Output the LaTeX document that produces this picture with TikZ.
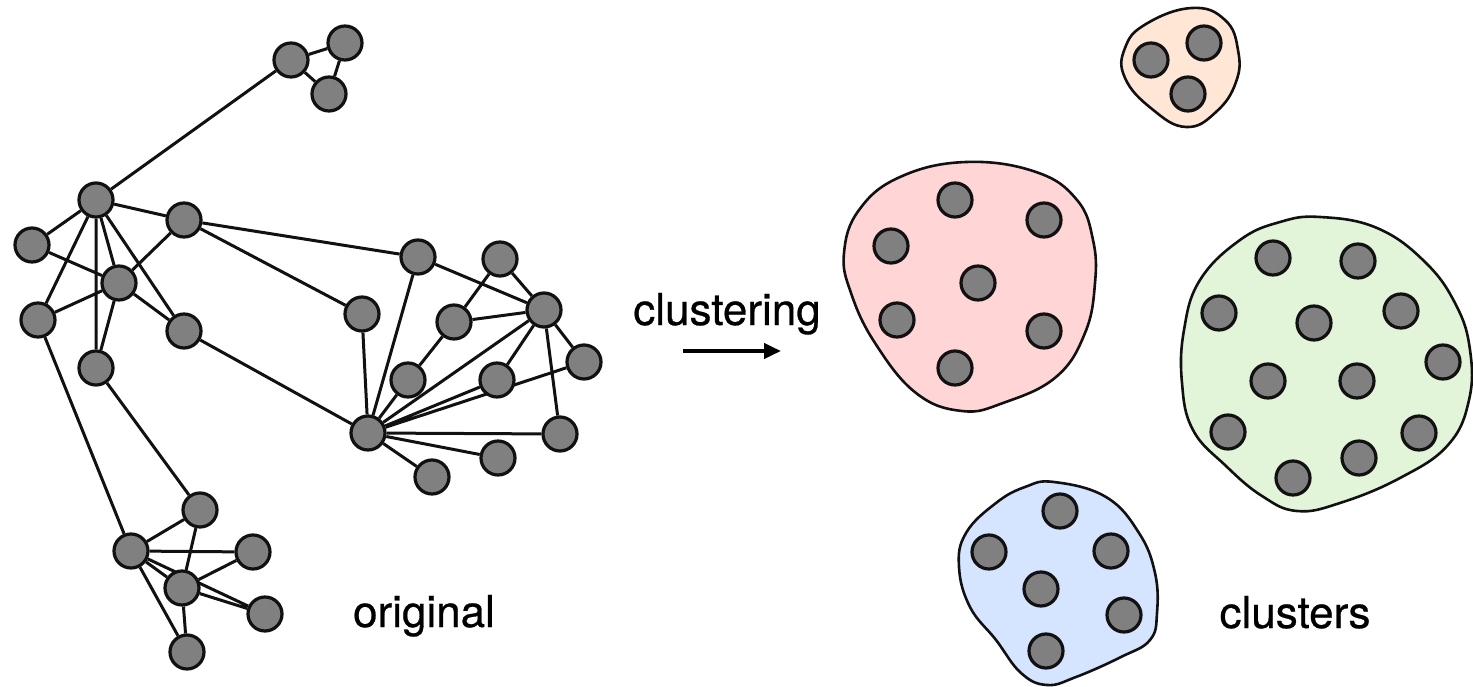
\documentclass[tikz,border=0pt]{standalone}
\usepackage{fontspec}
\setmainfont{TeX Gyre Heros}
\newfontfamily\lblfont{TeX Gyre Heros}[FakeBold=0.6]
\usetikzlibrary{arrows.meta,backgrounds}
\definecolor{nodegray}{HTML}{808080}
\definecolor{outl}{HTML}{111111}
\definecolor{orangefill}{HTML}{FFE6D5}
\definecolor{pinkfill}{HTML}{FFD5D5}
\definecolor{greenfill}{HTML}{E3F5D8}
\definecolor{bluefill}{HTML}{D5E5FF}
\begin{document}
\begin{tikzpicture}[x=1pt,y=-1pt,
  vtx/.style={circle,draw=outl,fill=nodegray,line width=3.2pt,minimum size=34pt,inner sep=0pt},
  edge/.style={draw=outl,line width=3pt},
  blob/.style={draw=outl,line width=2.6pt},
  lbl/.style={font=\lblfont\fontsize{44}{50}\selectfont,inner sep=0pt,anchor=base}]
\useasboundingbox (0,0) rectangle (1473,687);

% ---------- cluster blobs ----------
\draw[blob,fill=orangefill] plot[smooth cycle,tension=0.75] coordinates {
  (1192,8) (1225,20) (1238,50) (1236,82) (1216,112) (1186,127) (1152,109) (1125,78) (1125,48) (1146,24)};
\draw[blob,fill=pinkfill] plot[smooth cycle,tension=0.7] coordinates {
  (966,162) (1036,172) (1077,200) (1093,240) (1095,283) (1085,333) (1056,377) (1003,403) (962,411)
  (916,393) (875,343) (851,293) (844,253) (859,210) (900,177)};
\draw[blob,fill=greenfill] plot[smooth cycle,tension=0.7] coordinates {
  (1320,217) (1377,228) (1425,262) (1456,305) (1470,350) (1469,400) (1448,445) (1400,478) (1340,503)
  (1297,511) (1262,496) (1226,466) (1193,430) (1182,383) (1184,330) (1200,280) (1240,240) (1280,222)};
\draw[blob,fill=bluefill] plot[smooth cycle,tension=0.7] coordinates {
  (1054,482) (1106,497) (1139,533) (1155,573) (1157,613) (1150,640) (1121,657) (1076,677) (1047,685)
  (1021,673) (996,640) (970,607) (959,567) (966,533) (996,503) (1025,487)};

% ---------- original graph nodes ----------
\node[vtx] (T1) at (291,60) {};
\node[vtx] (T2) at (345,43) {};
\node[vtx] (T3) at (329,94) {};
\node[vtx] (A) at (96,200) {};
\node[vtx] (B) at (184,220) {};
\node[vtx] (C) at (32,245) {};
\node[vtx] (D) at (119,283) {};
\node[vtx] (E) at (38,320) {};
\node[vtx] (F) at (184,331) {};
\node[vtx] (G) at (96,368) {};
\node[vtx] (H) at (362,314) {};
\node[vtx] (I) at (418,257) {};
\node[vtx] (N) at (500,259) {};
\node[vtx] (P) at (544,310) {};
\node[vtx] (Q) at (454,322) {};
\node[vtx] (R) at (584,362) {};
\node[vtx] (S) at (408,380) {};
\node[vtx] (U) at (497,380) {};
\node[vtx] (K) at (368,433) {};
\node[vtx] (V) at (560,434) {};
\node[vtx] (W) at (498,458) {};
\node[vtx] (X) at (432,477) {};
\node[vtx] (M) at (200,510) {};
\node[vtx] (L) at (131,551) {};
\node[vtx] (O) at (253,552) {};
\node[vtx] (Z) at (182,588) {};
\node[vtx] (Y) at (265,614) {};
\node[vtx] (Bt) at (187,652) {};

% ---------- cluster nodes ----------
\node[vtx] (o1) at (1151,60) {};
\node[vtx] (o2) at (1204,43) {};
\node[vtx] (o3) at (1188,94) {};

\node[vtx] (p1) at (955,200) {};
\node[vtx] (p2) at (1044,220) {};
\node[vtx] (p3) at (891,246) {};
\node[vtx] (p4) at (978,283) {};
\node[vtx] (p5) at (897,320) {};
\node[vtx] (p6) at (1044,331) {};
\node[vtx] (p7) at (955,368) {};

\node[vtx] (g1) at (1273,258) {};
\node[vtx] (g2) at (1358,261) {};
\node[vtx] (g3) at (1219,313) {};
\node[vtx] (g4) at (1314,323) {};
\node[vtx] (g5) at (1401,311) {};
\node[vtx] (g6) at (1443,362) {};
\node[vtx] (g7) at (1268,381) {};
\node[vtx] (g8) at (1357,381) {};
\node[vtx] (g9) at (1228,432) {};
\node[vtx] (g10) at (1419,433) {};
\node[vtx] (g11) at (1359,458) {};
\node[vtx] (g12) at (1293,478) {};

\node[vtx] (b1) at (1060,511) {};
\node[vtx] (b2) at (989,552) {};
\node[vtx] (b3) at (1111,551) {};
\node[vtx] (b4) at (1041,589) {};
\node[vtx] (b5) at (1124,615) {};
\node[vtx] (b6) at (1046,651) {};

% ---------- edges ----------
\begin{pgfonlayer}{background}
\path[edge] (A) -- (T1) (T1) -- (T2) (T1) -- (T3) (T2) -- (T3)
  (A) -- (C) (A) -- (B) (A) -- (E) (A) -- (G) (A) -- (D) (A) -- (F)
  (C) -- (D) (E) -- (D) (B) -- (D) (D) -- (F) (D) -- (G)
  (B) -- (I) (B) -- (H) (F) -- (K) (E) -- (L) (G) -- (M)
  (I) -- (P) (I) -- (K) (H) -- (K) (N) -- (Q) (N) -- (P) (Q) -- (P) (Q) -- (S) (S) -- (K)
  (P) -- (K) (P) -- (U) (P) -- (R) (P) -- (V) (K) -- (U) (K) -- (R) (K) -- (V) (K) -- (W) (K) -- (X)
  (L) -- (M) (L) -- (O) (M) -- (Z) (L) -- (Z) (Z) -- (O) (Z) -- (Y) (L) -- (Y) (L) -- (Bt) (Z) -- (Bt);
\end{pgfonlayer}

% ---------- labels and arrow ----------
\node[lbl] (tclu) at (727,325) {clustering};
\node[lbl] (torig) at (424,627) {original};
\node[lbl] (tclus) at (1295,628) {clusters};
\coordinate (arrS) at (683,351);
\coordinate (arrE) at (781,351);
\draw[draw=black,line width=4pt,-{Triangle[length=17pt,width=15pt]}] (arrS) -- (arrE);
\end{tikzpicture}
\end{document}
